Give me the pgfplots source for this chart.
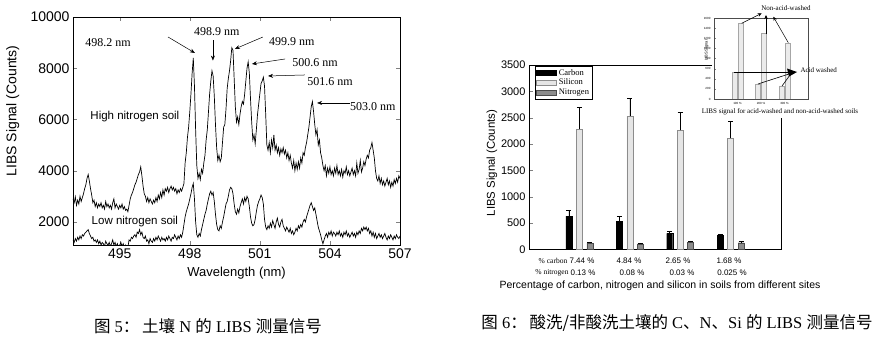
\documentclass[border=0pt]{standalone}
\usepackage{fontspec}
\setmainfont{Liberation Sans}
\newfontfamily\serif{Liberation Serif}
\newfontfamily\cjk{Noto Sans CJK SC}
\usepackage{pgfplots}
\pgfplotsset{compat=1.18}
\usetikzlibrary{arrows.meta}
\pgfplotsset{/pgf/number format/.cd, 1000 sep={}, assume math mode=true}
\newcommand\fs[1]{\fontsize{#1}{#1}\selectfont}
\begin{document}
\begin{tikzpicture}[x=1pt,y=1pt]
\useasboundingbox (0,0) rectangle (888,339);
% ---------------- left panel ----------------
\begin{axis}[at={(73pt,94pt)}, anchor=south west, scale only axis,
  width=327pt, height=228pt,
  xmin=493, xmax=507, ymin=1100, ymax=10000,
  xtick={495,498,501,504,507}, ytick={2000,4000,6000,8000,10000},
  scaled ticks=false,
  tick label style={font=\fs{14}},
  xlabel={Wavelength (nm)}, ylabel={LIBS Signal (Counts)},
  xlabel style={font=\fs{13}, at={(axis description cs:0.5,-0.123)}, anchor=center},
  ylabel style={font=\fs{14}, at={(axis description cs:-0.184,0.588)}, anchor=center},
  axis line style={line width=0.6pt}]
\addplot[black, line width=0.7pt, no marks] coordinates {
(493.00,2900)(493.05,2750)(493.10,2980)(493.15,2650)(493.20,2850)(493.25,2700)(493.30,3000)(493.35,2800)(493.40,2950)(493.45,3100)
(493.50,3300)(493.55,3450)(493.60,3700)(493.65,3850)(493.70,3600)(493.75,3300)(493.80,3050)(493.85,2750)(493.90,2850)(493.95,2600)
(494.00,2750)(494.05,2550)(494.10,2700)(494.15,2600)(494.20,2750)(494.25,2550)(494.30,2650)(494.35,2500)(494.40,2800)(494.45,2600)
(494.50,2700)(494.55,2550)(494.60,2650)(494.65,2500)(494.70,2750)(494.75,2900)(494.80,2550)(494.85,2700)(494.90,2600)(494.95,2500)
(495.00,2650)(495.05,2550)(495.10,2700)(495.15,2500)(495.20,2600)(495.25,2450)(495.30,2500)(495.35,2400)(495.40,2650)(495.45,2900)
(495.50,3050)(495.55,3150)(495.60,3300)(495.65,3450)(495.70,3550)(495.75,3700)(495.80,3850)(495.85,3950)(495.90,4150)(495.95,3800)
(496.00,3400)(496.05,3100)(496.10,3000)(496.15,2800)(496.20,2950)(496.25,2750)(496.30,2900)(496.35,2800)(496.40,2700)(496.45,2850)
(496.50,2750)(496.55,2950)(496.60,2800)(496.65,3050)(496.70,2900)(496.75,3150)(496.80,2950)(496.85,3250)(496.90,3050)(496.95,3300)
(497.00,3200)(497.05,3350)(497.10,3150)(497.15,3300)(497.20,3400)(497.25,3250)(497.30,3350)(497.35,3200)(497.40,3300)(497.45,3100)
(497.50,3250)(497.55,3150)(497.60,3300)(497.65,3200)(497.70,3350)(497.75,3500)(497.80,4300)(497.85,4700)(497.90,5300)(497.95,5700)
(498.00,6300)(498.05,7000)(498.10,7800)(498.15,8400)(498.20,7300)(498.25,5600)(498.30,4200)(498.35,3700)(498.40,3900)(498.45,3650)
(498.50,4050)(498.55,3900)(498.60,4300)(498.65,4600)(498.70,5200)(498.75,5600)(498.80,6300)(498.85,7000)(498.90,7500)(498.95,7900)
(499.00,7700)(499.05,6900)(499.10,5800)(499.15,4900)(499.20,4400)(499.25,4600)(499.30,4350)(499.35,4500)(499.40,5100)(499.45,5700)
(499.50,5800)(499.55,6400)(499.60,7200)(499.65,7600)(499.70,7900)(499.75,8300)(499.80,8800)(499.85,8700)(499.90,7600)(499.95,6500)
(500.00,5900)(500.05,6100)(500.10,5800)(500.15,6200)(500.20,6500)(500.25,6700)(500.30,6600)(500.35,7000)(500.40,7500)(500.45,8000)
(500.50,8250)(500.55,7800)(500.60,6800)(500.65,5900)(500.70,5200)(500.75,5400)(500.80,5050)(500.85,5600)(500.90,6200)(500.95,6600)
(501.00,7000)(501.05,7400)(501.10,7500)(501.15,7650)(501.20,7300)(501.25,6200)(501.30,5000)(501.35,4800)(501.40,5100)(501.45,4700)
(501.50,5200)(501.55,4900)(501.60,5400)(501.65,4800)(501.70,5000)(501.75,4700)(501.80,4900)(501.85,4600)(501.90,4850)(501.95,4700)
(502.00,4900)(502.05,4650)(502.10,4800)(502.15,4500)(502.20,4700)(502.25,4400)(502.30,4600)(502.35,4300)(502.40,4100)(502.45,4400)
(502.50,4000)(502.55,4300)(502.60,4050)(502.65,4350)(502.70,4100)(502.75,4500)(502.80,4300)(502.85,4700)(502.90,4600)(502.95,4900)
(503.00,5100)(503.05,5400)(503.10,5700)(503.15,6100)(503.20,6500)(503.25,6700)(503.30,6300)(503.35,5800)(503.40,5400)(503.45,5600)
(503.50,5000)(503.55,5200)(503.60,4700)(503.65,4500)(503.70,4200)(503.75,4000)(503.80,4200)(503.85,3800)(503.90,4100)(503.95,3900)
(504.00,4150)(504.05,3850)(504.10,4000)(504.15,3800)(504.20,4100)(504.25,3900)(504.30,4200)(504.35,3850)(504.40,4000)(504.45,3800)
(504.50,4050)(504.55,3750)(504.60,4000)(504.65,3900)(504.70,4150)(504.75,3850)(504.80,4000)(504.85,3800)(504.90,3950)(504.95,4100)
(505.00,3850)(505.05,4000)(505.10,3800)(505.15,4300)(505.20,3900)(505.25,4050)(505.30,4400)(505.35,3950)(505.40,4100)(505.45,4350)
(505.50,4200)(505.55,4450)(505.60,4600)(505.65,4500)(505.70,4800)(505.75,4900)(505.80,5100)(505.85,4800)(505.90,4500)(505.95,4000)
(506.00,3700)(506.05,3600)(506.10,3800)(506.15,3500)(506.20,3700)(506.25,3450)(506.30,3600)(506.35,3400)(506.40,3550)(506.45,3700)
(506.50,3450)(506.55,3600)(506.60,3350)(506.65,3550)(506.70,3400)(506.75,3650)(506.80,3500)(506.85,3700)(506.90,3550)(506.95,3800)
(507.00,3700)};
\addplot[black, line width=0.7pt, no marks] coordinates {
(493.00,1300)(493.05,1200)(493.10,1350)(493.15,1250)(493.20,1400)(493.25,1300)(493.30,1450)(493.35,1350)(493.40,1500)(493.45,1450)
(493.50,1550)(493.55,1600)(493.60,1650)(493.65,1700)(493.70,1550)(493.75,1450)(493.80,1350)(493.85,1400)(493.90,1250)(493.95,1300)
(494.00,1200)(494.05,1300)(494.10,1150)(494.15,1250)(494.20,1100)(494.25,1200)(494.30,1150)(494.35,1050)(494.40,1250)(494.45,1150)
(494.50,1100)(494.55,1200)(494.60,1050)(494.65,1150)(494.70,1300)(494.75,1100)(494.80,1200)(494.85,1050)(494.90,1150)(494.95,1000)
(495.00,1100)(495.05,1200)(495.10,1050)(495.15,1150)(495.20,1000)(495.25,1100)(495.30,1050)(495.35,1000)(495.40,1300)(495.45,1250)
(495.50,1400)(495.55,1350)(495.60,1450)(495.65,1500)(495.70,1400)(495.75,1600)(495.80,1550)(495.85,1700)(495.90,1500)(495.95,1600)
(496.00,1400)(496.05,1350)(496.10,1450)(496.15,1250)(496.20,1300)(496.25,1150)(496.30,1350)(496.35,1250)(496.40,1200)(496.45,1350)
(496.50,1250)(496.55,1400)(496.60,1300)(496.65,1450)(496.70,1350)(496.75,1250)(496.80,1400)(496.85,1300)(496.90,1350)(496.95,1250)
(497.00,1400)(497.05,1300)(497.10,1450)(497.15,1350)(497.20,1250)(497.25,1400)(497.30,1350)(497.35,1500)(497.40,1400)(497.45,1300)
(497.50,1450)(497.55,1350)(497.60,1500)(497.65,1400)(497.70,1600)(497.75,1900)(497.80,2200)(497.85,2400)(497.90,2550)(497.95,2700)
(498.00,2900)(498.05,3100)(498.10,3350)(498.15,3500)(498.20,2900)(498.25,2000)(498.30,1500)(498.35,1400)(498.40,1550)(498.45,1450)
(498.50,1700)(498.55,1900)(498.60,2100)(498.65,2300)(498.70,2450)(498.75,2700)(498.80,2900)(498.85,3100)(498.90,3200)(498.95,3050)
(499.00,3150)(499.05,2800)(499.10,2300)(499.15,1900)(499.20,1700)(499.25,1650)(499.30,1850)(499.35,1750)(499.40,2000)(499.45,2200)
(499.50,2450)(499.55,2700)(499.60,2800)(499.65,3000)(499.70,3250)(499.75,3350)(499.80,3300)(499.85,3100)(499.90,2700)(499.95,2400)
(500.00,2300)(500.05,2500)(500.10,2350)(500.15,2600)(500.20,2750)(500.25,2900)(500.30,2700)(500.35,2950)(500.40,2800)(500.45,3000)
(500.50,2900)(500.55,2600)(500.60,2200)(500.65,1950)(500.70,1850)(500.75,1900)(500.80,2100)(500.85,2400)(500.90,2650)(500.95,2800)
(501.00,2900)(501.05,3050)(501.10,2950)(501.15,2700)(501.20,2100)(501.25,1800)(501.30,1700)(501.35,1850)(501.40,1750)(501.45,1950)
(501.50,1800)(501.55,2050)(501.60,1900)(501.65,1750)(501.70,2000)(501.75,2150)(501.80,1900)(501.85,1800)(501.90,2000)(501.95,2100)
(502.00,1850)(502.05,1750)(502.10,1650)(502.15,1800)(502.20,1700)(502.25,1600)(502.30,1750)(502.35,1550)(502.40,1650)(502.45,1500)
(502.50,1600)(502.55,1750)(502.60,1650)(502.65,1850)(502.70,1750)(502.75,1900)(502.80,1800)(502.85,2000)(502.90,2100)(502.95,2000)
(503.00,2200)(503.05,2350)(503.10,2500)(503.15,2650)(503.20,2750)(503.25,2600)(503.30,2450)(503.35,2550)(503.40,2300)(503.45,2050)
(503.50,1800)(503.55,1650)(503.60,1500)(503.65,1300)(503.70,1150)(503.75,1300)(503.80,1450)(503.85,1550)(503.90,1400)(503.95,1600)
(504.00,1500)(504.05,1650)(504.10,1450)(504.15,1600)(504.20,1550)(504.25,1450)(504.30,1600)(504.35,1500)(504.40,1650)(504.45,1450)
(504.50,1550)(504.55,1400)(504.60,1600)(504.65,1500)(504.70,1650)(504.75,1450)(504.80,1550)(504.85,1400)(504.90,1500)(504.95,1600)
(505.00,1450)(505.05,1550)(505.10,1400)(505.15,1600)(505.20,1500)(505.25,1650)(505.30,1550)(505.35,1750)(505.40,1650)(505.45,1800)
(505.50,1700)(505.55,1800)(505.60,1650)(505.65,1750)(505.70,1550)(505.75,1650)(505.80,1450)(505.85,1600)(505.90,1400)(505.95,1550)
(506.00,1350)(506.05,1450)(506.10,1550)(506.15,1400)(506.20,1500)(506.25,1350)(506.30,1450)(506.35,1550)(506.40,1400)(506.45,1300)
(506.50,1450)(506.55,1350)(506.60,1500)(506.65,1400)(506.70,1300)(506.75,1450)(506.80,1350)(506.85,1500)(506.90,1400)(506.95,1350)
(507.00,1450)};
\begin{scope}[font=\serif\fs{12}]
\node at (axis cs:494.50,8985) {498.2 nm};
\node at (axis cs:499.16,9415) {498.9 nm};
\node at (axis cs:502.37,9025) {499.9 nm};
\node at (axis cs:503.36,8205) {500.6 nm};
\node at (axis cs:504.00,7464) {501.6 nm};
\node at (axis cs:505.84,6488) {503.0 nm};
\end{scope}
\begin{scope}[-{Stealth[length=5pt,width=4pt]}, line width=0.5pt]
\draw (axis cs:497.07,9219) -- (axis cs:498.22,8596);
\draw (axis cs:498.99,9088) -- (axis cs:498.99,8300);
\draw (axis cs:501.13,9219) -- (axis cs:499.93,8752);
\draw (axis cs:502.08,8361) -- (axis cs:500.66,8166);
\draw (axis cs:502.93,7737) -- (axis cs:501.35,7698);
\draw (axis cs:504.86,6644) -- (axis cs:503.45,6644);
\end{scope}
\node[font=\fs{11.5}] at (axis cs:495.65,6097) {High nitrogen soil};
\node[font=\fs{11.5}] at (axis cs:495.65,1998) {Low nitrogen soil};
\end{axis}
% ---------------- right panel ----------------
\begin{axis}[at={(529pt,89.7pt)}, anchor=south west, scale only axis,
  width=252pt, height=184.3pt,
  xmin=0, xmax=5, ymin=0, ymax=3500,
  xtick={1,2,3,4}, xticklabels={}, ytick={0,500,...,3500},
  tick pos=left, scaled ticks=false,
  tick label style={font=\fs{11}},
  ylabel={LIBS Signal (Counts)},
  ylabel style={font=\fs{11.4}, at={(axis description cs:-0.147,0.468)}, anchor=center},
  xlabel={Percentage of carbon, nitrogen and silicon in soils from different sites},
  xlabel style={font=\fs{10.5}, at={(axis description cs:0.52,-0.199)}, anchor=center},
  axis line style={line width=0.5pt},
  legend style={at={(rel axis cs:0.024,0.995)}, anchor=north west, font=\serif\fs{8.5},
    draw=black, line width=0.5pt, inner sep=1pt, row sep=-1.5pt, cells={anchor=west}},
  error bars/error bar style={black, line width=0.5pt},
  error bars/error mark=|,
  error bars/error mark options={black, mark size=2.5pt, line width=0.5pt}]
\addplot[ybar, bar width=6pt, bar shift=0pt, fill=black, draw=black,
  legend image code/.code={\draw[black,fill=black] (0pt,-2.5pt) rectangle (20pt,2.5pt);},
  error bars/.cd, y dir=plus, y explicit]
  coordinates {(0.792,630) +- (0,105) (1.792,530) +- (0,95) (2.792,300) +- (0,45) (3.792,270) +- (0,20)};
\addlegendentry{Carbon}
\addplot[ybar, bar width=6pt, bar shift=0pt, fill=black!10, draw=black!45,
  legend image code/.code={\draw[black!45,fill=black!10] (0pt,-2.5pt) rectangle (20pt,2.5pt);},
  error bars/.cd, y dir=plus, y explicit]
  coordinates {(1,2280) +- (0,420) (2,2530) +- (0,340) (3,2260) +- (0,335) (4,2110) +- (0,320)};
\addlegendentry{Silicon}
\addplot[ybar, bar width=6pt, bar shift=0pt, fill=black!45, draw=black!70,
  legend image code/.code={\draw[black!70,fill=black!45] (0pt,-2.5pt) rectangle (20pt,2.5pt);},
  error bars/.cd, y dir=plus, y explicit]
  coordinates {(1.208,115) +- (0,25) (2.208,105) +- (0,15) (3.208,130) +- (0,30) (4.208,125) +- (0,25)};
\addlegendentry{Nitrogen}
\end{axis}
% rows below the bar chart
\begin{scope}[font=\fs{8}]
\node[font=\serif\fs{7.5}] at (553,78) {\% carbon};
\node at (582,78) {7.44 \%};
\node at (629,78) {4.84 \%};
\node at (678,78) {2.65 \%};
\node at (729,78) {1.68 \%};
\node[font=\serif\fs{7.5}] at (552,66) {\% nitrogen};
\node at (583,66) {0.13 \%};
\node at (632,66) {0.08 \%};
\node at (682,66) {0.03 \%};
\node at (732,66) {0.025 \%};
\end{scope}
% ---------------- inset ----------------
\fill[white] (712,221) rectangle (888,339);
\begin{axis}[at={(714pt,240pt)}, anchor=south west, scale only axis,
  width=94pt, height=81pt,
  xmin=0, xmax=4, ymin=0, ymax=1600,
  xtick={1,2,3}, xticklabels={100 \%,200 \%,300 \%},
  ytick={0,200,...,1600}, tick pos=left, scaled ticks=false,
  tick label style={font=\fs{3}}, major tick length=1.5pt,
  axis line style={line width=0.4pt, black!70},
  ylabel={LIBS Signal}, ylabel style={font=\fs{4}, at={(axis description cs:-0.08,0.6)}, anchor=center}]
\addplot[ybar, bar width=5pt, bar shift=-3pt, fill=black!8, draw=black!35]
  coordinates {(1,520) (2,300) (3,260)};
\addplot[ybar, bar width=5pt, bar shift=3pt, fill=black!8, draw=black!35]
  coordinates {(1,1500) (2,1300) (3,1100)};
\end{axis}
\node[font=\serif\fs{7}] at (780,227) {LIBS signal for acid-washed and non-acid-washed soils};
\node[font=\serif\fs{7}] at (786,330.7) {Non-acid-washed};
\node[font=\serif\fs{7}, anchor=west] at (797,269) {Acid washed};
\begin{scope}[-{Stealth[length=4pt,width=3.5pt]}, line width=0.5pt]
\draw (741.7,315.7) -- (761.7,325.7);
\draw (766,304.7) -- (766,324);
\draw (788.3,296.3) -- (773.3,322.3);
\end{scope}
\begin{scope}[line width=0.6pt]
\draw (734,266.7) -- (792,266.7);
\draw (758,255) -- (792,266);
\draw (782,253) -- (790,264);
\fill (797,267) -- (787,270.5) -- (789,262.5) -- cycle;
\end{scope}
% ---------------- captions ----------------
\node[font=\serif\fs{16.5}] at (208,13) {{\cjk 图} 5{\cjk ：}\,{\cjk 土壤} N {\cjk 的} LIBS {\cjk 测量信号}};
\node[font=\serif\fs{16.5}] at (677,16) {{\cjk 图} 6{\cjk ：}\,{\cjk 酸洗/非酸洗土壤的} C{\cjk 、}N{\cjk 、}Si {\cjk 的} LIBS {\cjk 测量信号}};
\end{tikzpicture}
\end{document}
